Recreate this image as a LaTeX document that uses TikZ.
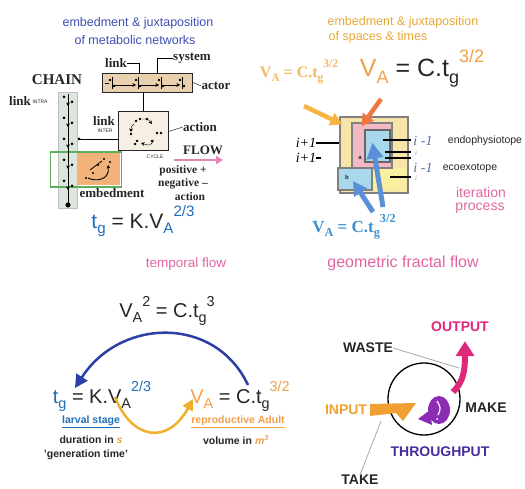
\documentclass[tikz,border=0pt]{standalone}
\usepackage{fontspec}
\usepackage{graphicx}
\setmainfont{Liberation Serif}
\setsansfont{Liberation Sans}
\usetikzlibrary{arrows.meta}

\definecolor{darkgr}{HTML}{262626}
\definecolor{tlblue}{HTML}{3E4FB5}
\definecolor{tlorange}{HTML}{E8A638}
\definecolor{tblue}{HTML}{1E6EB9}
\definecolor{pinkt}{HTML}{E065A0}
\definecolor{vorange}{HTML}{F0A048}
\definecolor{lorange}{HTML}{F3B860}
\definecolor{systan}{HTML}{E9D0AE}
\definecolor{cycbg}{HTML}{F6F0E4}
\definecolor{chaingr}{HTML}{DCE6DE}
\definecolor{embgreen}{HTML}{5DAF5D}
\definecolor{embor}{HTML}{F2B27A}
\definecolor{nyel}{HTML}{F6E4A8}
\definecolor{lyel}{HTML}{F8EFA0}
\definecolor{npink}{HTML}{F2B8C4}
\definecolor{nblue}{HTML}{A9D8EC}
\definecolor{arrLO}{HTML}{F6B440}
\definecolor{arrRO}{HTML}{F07840}
\definecolor{arrBl}{HTML}{5B90D6}
\definecolor{fblue}{HTML}{3A90D0}
\definecolor{imblue}{HTML}{5A6AA8}
\definecolor{arcblue}{HTML}{2C3FA5}
\definecolor{arcorange}{HTML}{F0B02C}
\definecolor{magent}{HTML}{E0287A}
\definecolor{purp}{HTML}{8C2CB4}
\definecolor{thru}{HTML}{4B2C9C}
\definecolor{inorange}{HTML}{F0A030}

\newcommand{\dn}[1]{\raisebox{-0.25em}{\scalebox{0.72}{#1}}}
\newcommand{\up}[1]{\raisebox{0.58em}{\scalebox{0.72}{#1}}}
\newcommand{\fs}[1]{\fontsize{#1}{#1}\selectfont}

\begin{document}
\begin{tikzpicture}[x=1pt,y=-1pt,
  ttl/.style={font=\sffamily\fs{12.5}, inner sep=0pt},
  lbl/.style={font=\bfseries\fs{13}, inner sep=0pt, text=darkgr},
  tiny/.style={font=\sffamily\fs{5}, inner sep=0pt, text=darkgr},
  frm/.style={font=\sffamily\fs{21}, inner sep=0pt, text=darkgr},
  sfrm/.style={font=\bfseries\fs{16}, inner sep=0pt},
  ital/.style={font=\itshape\fs{14}, inner sep=0pt},
  sml/.style={font=\sffamily\bfseries\fs{10.5}, inner sep=0pt, text=darkgr},
  captxt/.style={font=\sffamily\bfseries\fs{14}, inner sep=0pt, text=darkgr},
  lead/.style={draw=gray!70, line width=0.8pt},
  nest/.style={draw=gray, line width=1.2pt, inner sep=0pt},
  fatarr/.style={line width=4.5pt, -{Triangle[length=12pt,width=13pt]}},
  smtip/.style={-{Stealth[length=3.5pt,width=3.5pt]}}
]
\useasboundingbox (0,0) rectangle (525,489);

% metabolic networks
\node[ttl, text=tlblue] (ttlA) at (138,23) {embedment \& juxtaposition};
\node[ttl, text=tlblue] (ttlB) at (135,40) {of metabolic networks};

\node[draw=darkgr, fill=systan, line width=0.8pt, minimum width=90pt, minimum height=19pt, inner sep=0pt] (system) at (147.5,82.5) {};
\node[lbl] (lnk) at (116,63) {link};
\node[lbl] (sys) at (192,58) {system};
\node[lbl] (actor) at (216,86) {actor};
\draw (lnk.east) -| ([xshift=-8pt]system.north);
\draw (sys.west) -| ([xshift=10pt]system.north);
\draw (system.east) -- (actor.west);
\foreach \px in {112,138,161,182} {
  \draw (\px,77) -- (\px,89);
  \fill (\px-2,80) circle (1.3);
  \fill (\px+2,86) circle (1.3);
}
\foreach \ax/\bx in {114/136,140/159,163/180} \draw[smtip] (\ax,85) -- (\bx,85);
\draw (105,83) -- (109,83);

\node[lbl, font=\bfseries\fs{15}] (chainlbl) at (57,80) {CHAIN};
\node[lbl] (lnkA) at (20,101) {link};
\node[tiny] (intra) at (40,102) {INTRA};

\node[draw=gray!50, fill=chaingr, minimum width=19pt, minimum height=116pt, inner sep=0pt] (chain) at (67.5,150) {};
\node[fill=embor, minimum width=42pt, minimum height=32pt, inner sep=0pt] (embor) at (99,169) {};
\node[draw=embgreen, line width=1.2pt, minimum width=71pt, minimum height=35pt, inner sep=0pt] (embed) at (86,169.5) {};
\draw[line width=0.8pt] (68,94) -- (68,204);
\foreach \cy in {106,127,148,169,190} \draw[smtip] (68,\cy-5) -- (68,\cy);
\foreach \cy in {97,118,139,160,181} {
  \fill (64,\cy) circle (1.5);
  \fill (72,\cy+5) circle (1.5);
}
\fill (68,205) circle (2.6);
% embedment loop
\draw[smtip, line width=0.9pt] (88,178) .. controls (96,182) and (110,180) .. (108,165);
\draw[line width=0.8pt] (90,170) -- (102,161);
\foreach \ex/\ey in {86/178,104/159,110/162,98/165,93/173} \fill (\ex,\ey) circle (1.2);

\node[draw=darkgr, fill=cycbg, line width=1pt, minimum width=50pt, minimum height=39pt, inner sep=0pt] (cycle) at (143,131.5) {};
\draw[line width=1pt] (system.south -| cycle.north) -- (cycle.north);
\draw[smtip] (134,124) .. controls (131,127) .. (131,132);
\draw[smtip] (142,119) .. controls (148,119) .. (152,124);
\draw[smtip] (154,140) .. controls (150,146) .. (141,143);
\foreach \qx/\qy in {136/121,140/119,147/119,131/134,157/133,161/133,137/141,135/144,152/141} \fill (\qx,\qy) circle (1.3);
\node[tiny] (cyclbl) at (155,157) {CYCLE};
\node[lbl] (lnkB) at (104,121) {link};
\node[tiny] (inter) at (105,131) {INTER};
\coordinate (interpt) at (79,139);
\fill (interpt) circle (1.5);
\draw[line width=0.9pt] (interpt) -- (interpt -| cycle.west);
\node[lbl] (action) at (200,127) {action};
\draw (cycle.east) -- (action.west);

\node[lbl] (flow) at (203,150) {FLOW};
\coordinate (flowA) at (174,160);
\draw[draw=pinkt!80, line width=2pt, -{Triangle[length=7pt,width=8pt]}] (flowA) -- (flowA -| flow.east);
\node[lbl, font=\bfseries\fs{11.5}] (pos) at (183,171) {positive +};
\node[lbl, font=\bfseries\fs{11.5}] (neg) at (183,184) {negative –};
\node[lbl, font=\bfseries\fs{11.5}] (act2) at (190,197) {action};
\node[lbl] (emb) at (112,193) {embedment};

\node[frm] (tgK) at (143,221) {\textcolor{tblue}{t\dn{g}} = K.V\textcolor{tblue}{\dn{A}\up{2/3}}};
\node[ttl, text=pinkt, font=\sffamily\fs{13.5}] (tflow) at (186,264) {temporal flow};

% spaces and times
\node[ttl, text=tlorange] (ttlC) at (403,22) {embedment \& juxtaposition};
\node[ttl, text=tlorange] (ttlD) at (378,37) {of spaces \& times};
\node[sfrm, text=lorange] (vaS) at (299,72) {V\dn{A} = C.t\dn{g}\up{3/2}};
\node[frm, font=\sffamily\fs{25}] (vaB) at (422,68) {\textcolor{vorange}{V\dn{A}} = C.t\dn{g}\textcolor{vorange}{\up{3/2}}};

\node[nest, fill=nyel, minimum width=68pt, minimum height=76pt] (outer) at (374,155) {};
\fill[lyel] (372,168) rectangle (406,191);
\node[nest, fill=npink, minimum width=40pt, minimum height=45pt] (pinkb) at (372,145.5) {};
\node[nest, draw=gray!80!black, fill=nblue, minimum width=25pt, minimum height=32pt] (blueA) at (377.5,146) {};
\node[nest, fill=nblue, minimum width=34pt, minimum height=22pt] (blueB) at (355,179) {};
\node[tiny, font=\sffamily\bfseries\fs{6}] (la) at (360,158) {a};
\node[tiny, font=\sffamily\bfseries\fs{6}] (lb) at (347,177) {b};

\coordinate (loA) at (304,106);
\draw[fatarr, draw=arrLO, color=arrLO] (loA) -- ([shift={(3,8)}]outer.north west);
\coordinate (roA) at (381,99);
\draw[fatarr, draw=arrRO, color=arrRO] (roA) -- ([shift={(10,4)}]pinkb.north west);

\foreach \lx/\ly in {383/140,385/152,385/158,390/177} \draw[line width=1.3pt] (\lx,\ly) -- (411,\ly);
\node[ital] (ipA) at (306,143) {i+1};
\node[ital] (ipB) at (306,158) {i+1};
\draw[line width=1.3pt] (ipA.east) -- (outer.west |- ipA);
\draw[line width=1.3pt] (ipB.east) -- ++(5,0);
\node[ital, text=imblue] (imA) at (423,141) {i -1};
\node[ital, text=imblue] (imB) at (423,168) {i -1};
\node[tiny, font=\itshape\fs{7}, text=pinkt] (iA) at (416,153) {i};
\node[tiny, font=\itshape\fs{7}, text=pinkt] (iB) at (416,178) {i};
\node[sml, font=\sffamily\fs{10.5}] (endo) at (485,141) {endophysiotope};
\node[sml, font=\sffamily\fs{10.5}] (eco) at (470,168) {ecoexotope};
\node[ttl, text=pinkt, font=\sffamily\fs{14}] (iter) at (481,192) {iteration};
\node[ttl, text=pinkt, font=\sffamily\fs{14}] (proc) at (480,208) {process};

\coordinate (blA) at (383,207);
\coordinate (blB) at (373,212);
\draw[line width=5pt, draw=arrBl, color=arrBl, -{Triangle[length=16pt,width=16pt]}] (blA) -- ([shift={(8,-20)}]blueA.south west);
\draw[line width=5pt, draw=arrBl, color=arrBl, -{Triangle[length=14pt,width=15pt]}] (blB) -- ([shift={(-2,2)}]blueB.center);

\node[sfrm, text=fblue, font=\bfseries\fs{17}] (vaC) at (354,227) {V\dn{A} = C.t\dn{g}\up{3/2}};
\node[ttl, text=pinkt, font=\sffamily\fs{16}] (gflow) at (403,263) {geometric fractal flow};

% generation time
\node[frm, font=\sffamily\fs{20}] (vaSq) at (167,311) {V\dn{A}\up{2} = C.t\dn{g}\up{3}};
\node[frm, font=\sffamily\fs{20}] (tgL) at (102,396) {\textcolor{tblue}{t\dn{g}} = K.V\dn{A}\textcolor{tblue}{\up{2/3}}};
\node[frm, font=\sffamily\fs{20}] (vaR) at (240,396) {\textcolor{vorange}{V\dn{A}} = C.t\dn{g}\textcolor{vorange}{\up{3/2}}};
\coordinate (bS) at (248,385);
\coordinate (bE) at (75,388);
\draw[draw=arcblue, color=arcblue, line width=2.5pt, -{Triangle[length=13pt,width=13pt]}] (bS) .. controls (215,315) and (120,318) .. (bE);
\coordinate (oS) at (115,397);
\coordinate (oE) at (193,399);
\draw[draw=arcorange, color=arcorange, line width=2.5pt, -{Triangle[length=11pt,width=11pt]}] (oS) .. controls (132,440) and (168,445) .. (oE);

\node[sml, text=tblue] (larv) at (91,422) {\underline{larval stage}};
\node[sml] (dur) at (91,440) {duration in \textcolor{vorange}{\textit{s}}};
\node[sml] (gen) at (86,455) {'generation time'};
\node[sml, text=vorange] (repr) at (238,422) {\underline{reproductive Adult}};
\node[sml] (vol) at (236,440) {volume in \textcolor{vorange}{\textit{m\textsuperscript{3}}}};

% throughput
\node[captxt, text=magent] (out) at (460,327) {OUTPUT};
\node[captxt] (waste) at (368,348) {WASTE};
\node[draw=black, line width=1.3pt, circle, minimum size=72pt, inner sep=0pt] (sysc) at (424,399) {};
\coordinate (wasteEnd) at (459,368);
\draw[lead] (waste.east) -- (wasteEnd);
\node[captxt] (make) at (486,408) {MAKE};
\node[captxt, text=inorange] (inp) at (346,410) {INPUT};
\node[captxt, text=thru] (thr) at (440,452) {THROUGHPUT};
\node[captxt] (take) at (360,480) {TAKE};
\fill[inorange] (370,404) -- (416,403) -- (403,421) -- (396,413) -- (370,416) -- cycle;
\coordinate (takeEnd) at (381,421);
\draw[lead] (take.north) -- (takeEnd);
\fill[purp] (439,410) ellipse (11 and 14);
\fill[purp] (430,410) -- (418,419) -- (432,425) -- cycle;
\draw[white, line width=1.2pt] (437,401) .. controls (441,408) .. (438,415);
\fill[white] (437,419) circle (1);
\draw[draw=magent, color=magent, line width=6pt, -{Triangle[length=15pt,width=18pt]}] (453,392) .. controls (463,382) and (465,372) .. ([shift={(5,9)}]out.south);
\end{tikzpicture}
\end{document}
